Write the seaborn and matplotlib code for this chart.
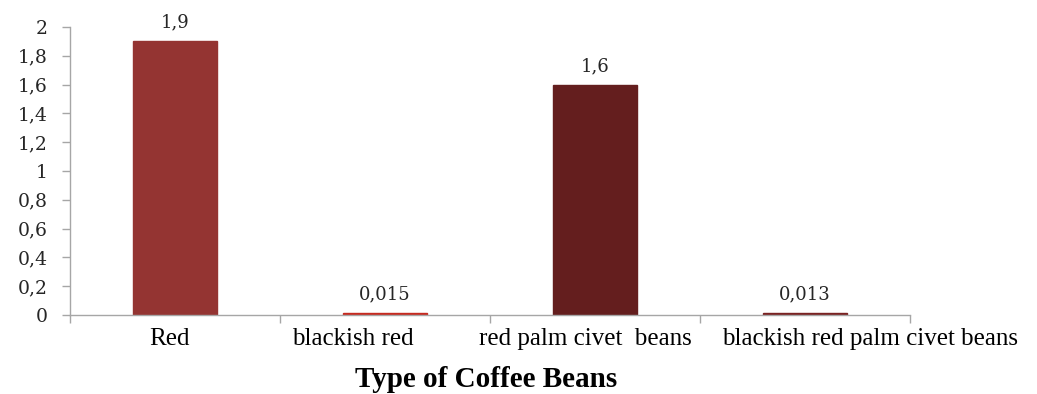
import matplotlib
matplotlib.use("Agg")
import matplotlib.pyplot as plt
import matplotlib.transforms as mtransforms
import seaborn as sns
import pandas as pd
from matplotlib.ticker import FixedLocator, FuncFormatter

# Data
categories = ["Red", "blackish red", "red palm civet  beans", "blackish red palm civet beans"]
values = [1.9, 0.015, 1.6, 0.013]
value_labels = ["1,9", "0,015", "1,6", "0,013"]
colors = ["#943432", "#c62a20", "#641e1e", "#7a2222"]
y_ticks = [0, 0.2, 0.4, 0.6, 0.8, 1.0, 1.2, 1.4, 1.6, 1.8, 2.0]
# horizontal nudge (points) for each category label so long names don't collide
label_shift_pt = [-4, -23, -7, 47]

sns.set_theme(style="white")
plt.rcParams["font.family"] = ["Liberation Serif", "DejaVu Serif"]

df = pd.DataFrame({"type": categories, "value": values})

fig = plt.figure(figsize=(10.37, 3.94), dpi=100)
ax = fig.add_axes([0.0675, 0.2005, 0.81, 0.731])

sns.barplot(data=df, x="type", y="value", hue="type", palette=colors,
            order=categories, hue_order=categories, legend=False,
            width=0.4, saturation=1, ax=ax)
# outline each bar in its own colour so the tiny values stay visible
for patch, c in zip(ax.patches, colors):
    patch.set_edgecolor(c)
    patch.set_linewidth(1)

ax.set_xlim(-0.5, len(categories) - 0.5)
ax.set_ylim(0, 2)

number_font = dict(family="DejaVu Serif", size=13, color="#262626")

# Value labels above each bar
for i, (v, lab) in enumerate(zip(values, value_labels)):
    ax.annotate(lab, (i, v), xytext=(0, 7), textcoords="offset points",
                ha="center", va="bottom", **number_font)

# y axis
ax.yaxis.set_major_locator(FixedLocator(y_ticks))
ax.yaxis.set_major_formatter(FuncFormatter(lambda v, p: f"{v:g}".replace(".", ",")))
ax.tick_params(axis="y", which="major", direction="out", length=6, width=1,
               color="#a6a6a6", pad=10, left=True)
for lab in ax.get_yticklabels():
    lab.set_fontfamily("DejaVu Serif")
    lab.set_fontsize(13.5)
    lab.set_color("#262626")

# x axis: labels under the bars, tick marks between categories
ax.set_xticks(range(len(categories)))
ax.set_xticklabels(categories)
ax.set_xticks([i - 0.5 for i in range(len(categories) + 1)], minor=True)
ax.tick_params(axis="x", which="major", length=0, labelsize=18, pad=9, colors="black")
ax.tick_params(axis="x", which="minor", direction="out", length=6, width=1,
               color="#a6a6a6", bottom=True)
for lab, dx in zip(ax.get_xticklabels(), label_shift_pt):
    offset = mtransforms.ScaledTranslation(dx / 72, 0, fig.dpi_scale_trans)
    lab.set_transform(lab.get_transform() + offset)

ax.set_xlabel("Type of Coffee Beans", fontsize=21, fontweight="bold", color="black")
ax.xaxis.set_label_coords(0.495, -0.225)
ax.xaxis.label.set_va("center")
ax.set_ylabel("")

for side in ["top", "right"]:
    ax.spines[side].set_visible(False)
for side in ["left", "bottom"]:
    ax.spines[side].set_color("#a6a6a6")
    ax.spines[side].set_linewidth(1)

fig.savefig("out.png", dpi=100)
